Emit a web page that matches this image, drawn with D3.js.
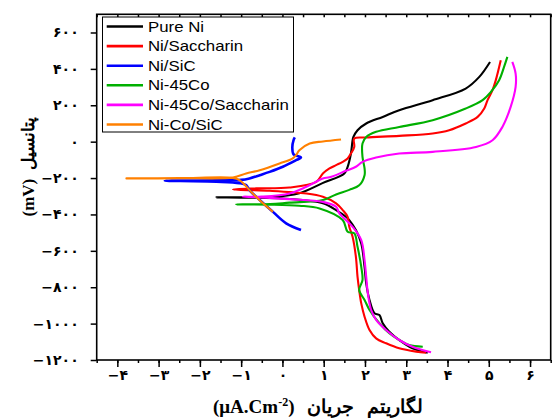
<!DOCTYPE html>
<html>
<head>
<meta charset="utf-8">
<script src="https://cdn.jsdelivr.net/npm/d3@7"></script>
<style>
body { margin: 0; background: #fff; }
text { fill: #000; }
</style>
</head>
<body>
<svg width="552" height="418"></svg>
<script>
// polarization curves: log current density (x) vs potential in mV (y)
var seriesNames = ["Pure Ni", "Ni/Saccharin", "Ni/SiC", "Ni-45Co", "Ni-45Co/Saccharin", "Ni-Co/SiC"]
var seriesColors = ["#000000", "#ff0000", "#0000ff", "#00b000", "#ff00ff", "#ff8000"]
var xTicks = [-4, -3, -2, -1, 0, 1, 2, 3, 4, 5, 6]
var yTicks = [600, 400, 200, 0, -200, -400, -600, -800, -1000, -1200]

var pureNi = [[3.52,-1160],[3.15,-1136],[2.83,-1090],[2.59,-1044],[2.43,-998],[2.35,-953],[2.23,-943],[2.11,-870],[2.03,-779],[1.99,-688],[1.91,-559],[1.78,-486],[1.62,-431],[1.54,-413],[1.30,-376],[0.98,-339],[0.49,-321],[0.0,-312],[-0.8,-308],[-1.60,-306],
    [-0.9,-306],[-0.31,-305],[0.41,-283],[0.97,-228],[1.50,-175],[1.58,-138],[1.66,-65],[1.70,8],[1.72,26],[1.82,63],[2.03,100],[2.43,136],[2.83,173],[3.64,228],[4.44,292],[4.77,356],[5.03,438]]
var niSaccharin = [[3.48,-1160],[3.24,-1154],[2.83,-1136],[2.51,-1108],[2.27,-1081],[2.11,-1035],[1.99,-962],[1.91,-889],[1.86,-816],[1.82,-743],[1.78,-633],[1.70,-523],[1.62,-468],[1.58,-413],[1.46,-376],[1.30,-339],[0.98,-303],[0.58,-285],[-0.31,-270],[-1.20,-263],
    [-0.63,-257],[0.17,-252],[0.82,-221],[0.98,-175],[1.14,-147],[1.30,-129],[1.46,-111],[1.58,-92],[1.66,-65],[1.74,-29],[1.74,17],[2.03,23],[2.83,32],[3.64,45],[4.04,63],[4.44,100],[4.73,136],[4.89,182],[4.97,228],[5.09,283],[5.17,338],[5.29,447]]
var niSiC = [[0.45,-486],[0.09,-449],[-0.23,-386],[-0.55,-321],[-0.80,-266],[-0.88,-239],[-1.04,-228],[-1.6,-220],[-2.85,-215],
    [-1.6,-213],[-1.0,-210],[-0.80,-202],[-0.55,-184],[-0.31,-166],[0.01,-138],[0.33,-102],[0.45,-87],[0.27,-70],[0.24,-29],[0.27,8],[0.30,23]]
var ni45Co = [[3.40,-1127],[3.07,-1118],[2.83,-1090],[2.59,-1053],[2.35,-998],[2.11,-925],[1.99,-870],[1.86,-816],[1.94,-761],[1.91,-688],[1.82,-578],[1.74,-504],[1.58,-495],[1.46,-431],[0.90,-367],[0.41,-352],[-0.3,-346],[-1.12,-345],
    [-0.3,-343],[0.17,-335],[0.98,-321],[1.30,-290],[1.62,-265],[1.86,-240],[1.99,-184],[1.99,-147],[1.94,-84],[1.94,-10],[2.03,26],[2.27,54],[2.83,81],[3.64,118],[4.44,182],[4.85,228],[5.05,273],[5.25,338],[5.37,411],[5.45,466]]
var ni45CoSaccharin = [[3.60,-1158],[3.15,-1127],[2.83,-1090],[2.51,-1035],[2.27,-980],[2.15,-925],[2.07,-834],[2.03,-743],[1.99,-651],[1.91,-541],[1.70,-468],[1.38,-394],[1.30,-358],[0.98,-331],[0.17,-316],[-0.5,-306],[-0.96,-303],
    [-0.5,-302],[0.17,-285],[0.58,-248],[0.98,-202],[1.14,-196],[1.54,-160],[1.78,-138],[1.94,-111],[2.27,-87],[2.83,-65],[3.64,-56],[4.69,-29],[5.09,8],[5.33,81],[5.53,191],[5.65,301],[5.65,374],[5.57,438]]
var niCoSiC = [[-0.23,-386],[-0.47,-339],[-0.72,-285],[-1.04,-211],[-1.20,-199],[-2.5,-201],[-3.78,-202],
    [-2.5,-200],[-1.20,-197],[-0.88,-175],[-0.55,-157],[-0.07,-120],[0.25,-92],[0.33,-74],[0.41,-47],[0.66,-10],[0.98,1],[1.42,12]]

var allSeries = [pureNi, niSaccharin, niSiC, ni45Co, ni45CoSaccharin, niCoSiC]

var dimensions = {
    width: 552,
    height: 418,
    left: 96.7,
    right: 550.7,
    top: 14.3,
    bottom: 360
}

var svg = d3.select("svg")

var x = d3.scaleLinear().domain([-4.5, 6.5]).range([dimensions.left, dimensions.right])
var y = d3.scaleLinear().domain([-1200, 700]).range([dimensions.bottom, dimensions.top])

// persian digits for the tick labels
var faDigits = "۰۱۲۳۴۵۶۷۸۹"
var fa = d => (d < 0 ? "−" : "") + String(Math.abs(d)).replace(/\d/g, c => faDigits[c])

var halves = d3.range(-4.5, 6.51, 0.5)

var xAxis = svg.append("g")
    .attr("transform", `translate(0,${dimensions.bottom})`)
    .call(d3.axisBottom(x).tickValues(xTicks).tickSize(7).tickPadding(3).tickFormat(fa))
var xMinor = svg.append("g")
    .attr("transform", `translate(0,${dimensions.bottom})`)
    .call(d3.axisBottom(x).tickValues(halves).tickSize(3).tickFormat(""))
var xTop = svg.append("g")
    .attr("transform", `translate(0,${dimensions.top})`)
    .call(d3.axisTop(x).tickValues(halves).tickSize(-3).tickFormat(""))
var yAxis = svg.append("g")
    .attr("transform", `translate(${dimensions.left},0)`)
    .call(d3.axisLeft(y).tickValues(yTicks).tickSize(6).tickPadding(12).tickFormat(fa))

svg.selectAll(".domain").remove()
svg.selectAll(".tick line").attr("stroke", "#000").attr("stroke-width", 1.5)
svg.selectAll(".tick text")
    .style("font-family", "'DejaVu Sans', sans-serif")
    .style("font-weight", "bold")
    .style("font-size", "14px")

// curves
var line = d3.line()
    .x(d => x(d[0]))
    .y(d => y(d[1]))
    .curve(d3.curveCatmullRom.alpha(0.5))

svg.append("g")
    .selectAll("path")
    .data(allSeries)
    .enter()
    .append("path")
    .attr("d", d => line(d))
    .attr("fill", "none")
    .attr("stroke", (d, i) => seriesColors[i])
    .attr("stroke-width", (d, i) => i == 2 ? 2.6 : 2.1)
    .attr("stroke-linejoin", "round")

// frame
svg.append("rect")
    .attr("x", dimensions.left)
    .attr("y", dimensions.top)
    .attr("width", dimensions.right - dimensions.left)
    .attr("height", dimensions.bottom - dimensions.top)
    .attr("fill", "none")
    .attr("stroke", "#000")
    .attr("stroke-width", 1.6)

// legend
var legend = svg.append("g")
legend.append("rect")
    .attr("x", 102.5).attr("y", 17)
    .attr("width", 191).attr("height", 115)
    .attr("fill", "#fff")
    .attr("stroke", "#000")
    .attr("stroke-width", 1)

seriesNames.forEach((name, i) => {
    var cy = 26.5 + i * 19.6
    legend.append("line")
        .attr("x1", 106.7).attr("x2", 143)
        .attr("y1", cy).attr("y2", cy)
        .attr("stroke", seriesColors[i])
        .attr("stroke-width", 2.6)
    legend.append("text")
        .attr("transform", `translate(148,${cy + 5}) scale(1.2,1)`)
        .style("font-family", "'Liberation Sans', Arial, sans-serif")
        .style("font-size", "14px")
        .text(name)
})

// axis titles
var xTitle = svg.append("text")
    .attr("x", 318).attr("y", 413)
    .attr("text-anchor", "middle")
    .style("font-family", "'Liberation Serif', serif")
    .style("font-weight", "bold")
    .style("font-size", "19px")
    .style("word-spacing", "8px")
xTitle.append("tspan").text("(μA.Cm")
xTitle.append("tspan").attr("dy", -7).style("font-size", "12px").text("-2")
xTitle.append("tspan").attr("dy", 7).text(")")
xTitle.append("tspan").text(" لگاریتم جریان")

svg.append("text")
    .attr("transform", "translate(34,167) rotate(-90)")
    .attr("text-anchor", "middle")
    .style("font-family", "'Liberation Serif', serif")
    .style("font-weight", "bold")
    .style("font-size", "17px")
    .style("word-spacing", "4px")
    .text("(mV) پتانسیل")
</script>
</body>
</html>
